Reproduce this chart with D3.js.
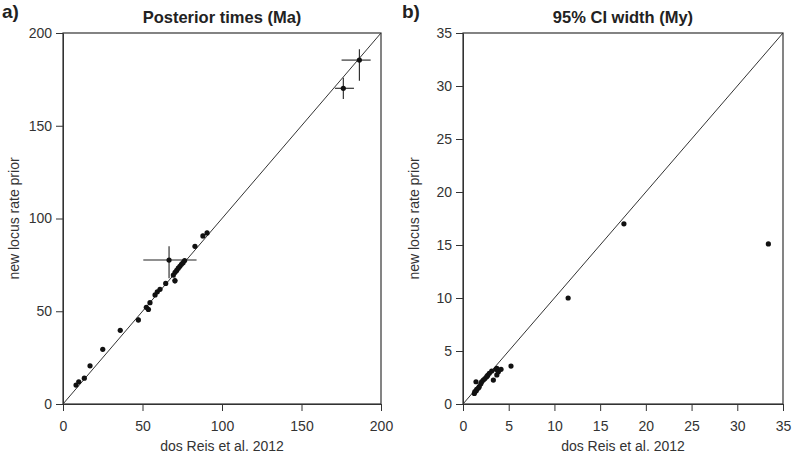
<!DOCTYPE html>
<html>
<head>
<meta charset="utf-8">
<script src="https://cdn.jsdelivr.net/npm/d3@7"></script>
<style>
  body { margin: 0; background: #fff; }
  svg { font-family: "Liberation Sans", Arial, sans-serif; }
  .axis text { font-size: 14px; fill: #333; }
  .axis path, .axis line { stroke: #333; }
</style>
</head>
<body>
<svg width="796" height="463"></svg>
<script>
// panel a: posterior times (Ma), with 95% CI
var aX    = [8.2, 9.9, 13.4, 17, 25, 36, 47.4, 52.4, 53.7, 54.7, 57.9, 59.3, 61, 64.6, 66.7, 69.4, 70.4, 70.5, 71.5, 72.5, 73.5, 74.5, 75.5, 76.5, 83, 88, 90.6, 176.3, 186.4];
var aY    = [10.2, 12, 13.9, 20.6, 29.5, 39.7, 45.3, 52.1, 51, 54.6, 58.8, 60.5, 61.8, 65, 77.6, 69.5, 66.5, 71, 72, 73.2, 74.2, 75.3, 76.2, 77.3, 85, 90.6, 92.2, 170.2, 185.4];
var aXLo  = [7.5, 9.2, 12.6, 16.2, 24, 34.8, 46, 51, 52, 53.5, 56.8, 58.2, 60, 63.5, 50.5, 68.4, 68.8, 69.6, 70.6, 71.6, 72.6, 73.6, 74.6, 75.6, 82, 86.8, 89.4, 171, 175.2];
var aXHi  = [8.9, 10.6, 14.2, 17.8, 26, 37.2, 48.8, 53.8, 55.4, 55.9, 59, 60.4, 62, 65.7, 84, 70.4, 72, 71.4, 72.4, 73.4, 74.4, 75.4, 76.4, 77.4, 84, 89.2, 91.8, 183, 193.5];
var aYLo  = [9.6, 11.4, 13.3, 19.9, 28.7, 38.7, 44, 51, 49.6, 53.7, 57.8, 59.5, 60.9, 64.1, 67.8, 68.6, 64.8, 70.2, 71.2, 72.3, 73.3, 74.4, 75.3, 76.4, 83.9, 89.4, 91, 164.4, 174.3];
var aYHi  = [10.8, 12.6, 14.5, 21.3, 30.3, 40.7, 46.6, 53.2, 52.4, 55.5, 59.8, 61.5, 62.7, 65.9, 85, 70.4, 68.2, 71.8, 72.8, 74.1, 75.1, 76.2, 77.1, 78.2, 86.1, 91.8, 93.4, 175.9, 191.2];

// panel b: 95% CI width (My)
var bX = [1.24, 1.3, 1.42, 1.5, 1.45, 1.68, 1.78, 1.95, 2.04, 2.22, 2.4, 2.59, 2.7, 2.88, 3.14, 3.32, 3.6, 3.7, 3.7, 3.87, 4.16, 5.25, 11.5, 17.6, 33.4];
var bY = [1.0, 1.16, 2.1, 1.38, 1.25, 1.5, 1.63, 1.9, 2.1, 2.26, 2.4, 2.58, 2.7, 2.9, 3.11, 2.26, 3.27, 2.74, 3.37, 3.05, 3.27, 3.58, 10.0, 17.0, 15.1];

var aTicks = [0, 50, 100, 150, 200];
var bTicks = [0, 5, 10, 15, 20, 25, 30, 35];

var svg = d3.select("svg"),
    plotTop = 33, plotBottom = 404;

function panel(opts) {
  var x = d3.scaleLinear().domain([0, opts.max]).range([opts.left, opts.right]);
  var y = d3.scaleLinear().domain([0, opts.max]).range([plotBottom, plotTop]);
  var g = svg.append("g");

  g.append("g")
      .attr("class", "axis")
      .attr("transform", "translate(0," + plotBottom + ")")
      .call(d3.axisBottom(x).tickValues(opts.ticks).tickSize(7).tickSizeOuter(0).tickPadding(10));

  g.append("g")
      .attr("class", "axis")
      .attr("transform", "translate(" + opts.left + ",0)")
      .call(d3.axisLeft(y).tickValues(opts.ticks).tickSize(7).tickSizeOuter(0).tickPadding(4));

  // box
  g.append("rect")
      .attr("x", opts.left)
      .attr("y", plotTop)
      .attr("width", opts.right - opts.left)
      .attr("height", plotBottom - plotTop)
      .attr("fill", "none")
      .attr("stroke", "#333")
      .attr("stroke-width", 1.2);

  // 1:1 line
  g.append("line")
      .attr("x1", x(0)).attr("y1", y(0))
      .attr("x2", x(opts.max)).attr("y2", y(opts.max))
      .attr("stroke", "#333")
      .attr("stroke-width", 1);

  var idx = d3.range(opts.xs.length);

  if (opts.xlo) {
    g.append("g").selectAll("line")
      .data(idx)
      .enter().append("line")
        .attr("x1", function(i) { return x(opts.xlo[i]); })
        .attr("x2", function(i) { return x(opts.xhi[i]); })
        .attr("y1", function(i) { return y(opts.ys[i]); })
        .attr("y2", function(i) { return y(opts.ys[i]); })
        .attr("stroke", "#222")
        .attr("stroke-width", 1.1);
    g.append("g").selectAll("line")
      .data(idx)
      .enter().append("line")
        .attr("x1", function(i) { return x(opts.xs[i]); })
        .attr("x2", function(i) { return x(opts.xs[i]); })
        .attr("y1", function(i) { return y(opts.ylo[i]); })
        .attr("y2", function(i) { return y(opts.yhi[i]); })
        .attr("stroke", "#222")
        .attr("stroke-width", 1.1);
  }

  g.append("g").selectAll("circle")
    .data(idx)
    .enter().append("circle")
      .attr("cx", function(i) { return x(opts.xs[i]); })
      .attr("cy", function(i) { return y(opts.ys[i]); })
      .attr("r", 2.6)
      .attr("fill", "#111");

  var mid = (opts.left + opts.right) / 2;

  g.append("text")
      .attr("x", mid)
      .attr("y", 23)
      .attr("text-anchor", "middle")
      .attr("font-size", 16.5)
      .attr("font-weight", "bold")
      .attr("fill", "#222")
      .text(opts.title);

  g.append("text")
      .attr("x", opts.left - 61)
      .attr("y", 18)
      .attr("font-size", 19)
      .attr("font-weight", "bold")
      .attr("fill", "#222")
      .text(opts.tag);

  g.append("text")
      .attr("x", mid)
      .attr("y", 451)
      .attr("text-anchor", "middle")
      .attr("font-size", 14)
      .attr("fill", "#333")
      .text("dos Reis et al. 2012");

  g.append("text")
      .attr("transform", "translate(" + (opts.left - 44) + "," + ((plotTop + plotBottom) / 2) + ") rotate(-90)")
      .attr("text-anchor", "middle")
      .attr("font-size", 14)
      .attr("fill", "#333")
      .text("new locus rate prior");
}

panel({left: 63, right: 381, max: 200, ticks: aTicks, xs: aX, ys: aY,
       xlo: aXLo, xhi: aXHi, ylo: aYLo, yhi: aYHi,
       title: "Posterior times (Ma)", tag: "a)"});

panel({left: 463, right: 783, max: 35, ticks: bTicks, xs: bX, ys: bY,
       title: "95% CI width (My)", tag: "b)"});
</script>
</body>
</html>
